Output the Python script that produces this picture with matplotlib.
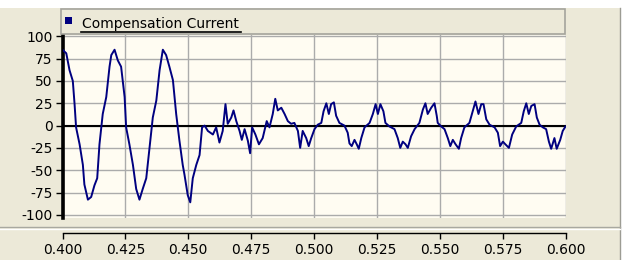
import matplotlib
matplotlib.use("Agg")
import matplotlib.pyplot as plt
from matplotlib.patches import Rectangle
from matplotlib.lines import Line2D

plt.rcParams['font.family'] = 'DejaVu Sans'
plt.rcParams['axes.unicode_minus'] = False

# values
time = [
    0.4000, 0.4015, 0.4028, 0.4041, 0.4048, 0.4054, 0.4068, 0.4081, 0.4087, 0.4101,
    0.4114, 0.4127, 0.4138, 0.4147, 0.4160, 0.4174, 0.4187, 0.4194, 0.4207, 0.4220,
    0.4233, 0.4247, 0.4253, 0.4266, 0.4280, 0.4293, 0.4306, 0.4319, 0.4333, 0.4346,
    0.4359, 0.4373, 0.4386, 0.4399, 0.4412, 0.4425, 0.4439, 0.4452, 0.4465, 0.4478,
    0.4485, 0.4498, 0.4508, 0.4518, 0.4532, 0.4545, 0.4555, 0.4565, 0.4578, 0.4598,
    0.4611, 0.4624, 0.4637, 0.4648, 0.4657, 0.4671, 0.4680, 0.4691, 0.4704, 0.4713,
    0.4724, 0.4737, 0.4746, 0.4754, 0.4767, 0.4781, 0.4796, 0.4812, 0.4823, 0.4836,
    0.4846, 0.4856, 0.4870, 0.4883, 0.4896, 0.4909, 0.4922, 0.4936, 0.4945, 0.4955,
    0.4969, 0.4979, 0.4989, 0.5002, 0.5015, 0.5029, 0.5038, 0.5049, 0.5059, 0.5068,
    0.5079, 0.5088, 0.5101, 0.5121, 0.5134, 0.5141, 0.5150, 0.5161, 0.5170, 0.5178,
    0.5188, 0.5201, 0.5221, 0.5234, 0.5245, 0.5254, 0.5264, 0.5276, 0.5284, 0.5300,
    0.5320, 0.5333, 0.5343, 0.5353, 0.5364, 0.5373, 0.5386, 0.5400, 0.5419, 0.5433,
    0.5443, 0.5452, 0.5466, 0.5479, 0.5488, 0.5492, 0.5506, 0.5519, 0.5532, 0.5542,
    0.5552, 0.5563, 0.5576, 0.5585, 0.5598, 0.5618, 0.5631, 0.5642, 0.5654, 0.5665,
    0.5674, 0.5685, 0.5698, 0.5718, 0.5731, 0.5740, 0.5751, 0.5761, 0.5775, 0.5788,
    0.5804, 0.5824, 0.5834, 0.5844, 0.5854, 0.5864, 0.5877, 0.5886, 0.5897, 0.5910,
    0.5923, 0.5934, 0.5943, 0.5956, 0.5965, 0.5979, 0.5989, 0.6000,
]
current = [
    85, 81, 62, 50, 24, -2, -21, -44, -66, -83,
    -80, -67, -59, -21, 13, 32, 66, 79, 85, 73,
    66, 32, -2, -21, -44, -71, -83, -71, -59, -25,
    9, 28, 62, 85, 79, 66, 51, 13, -17, -44,
    -55, -78, -86, -59, -44, -33, -2, 0, -6, -10,
    -2, -19, -6, 24, 2, 9, 17, 5, -6, -16,
    -4, -17, -31, -2, -10, -21, -14, 5, -2, 13,
    30, 17, 20, 13, 5, 2, 3, -6, -25, -6,
    -14, -23, -14, -4, 1, 3, 16, 25, 13, 24,
    26, 11, 3, 0, -8, -20, -23, -16, -21, -26,
    -14, -2, 3, 13, 24, 13, 24, 16, 3, -1,
    -4, -14, -25, -18, -21, -25, -12, -4, 3, 18,
    25, 13, 20, 25, 11, 3, -1, -4, -14, -23,
    -16, -21, -26, -14, -2, 3, 16, 27, 13, 24,
    24, 7, 1, -2, -8, -23, -18, -21, -25, -10,
    -1, 3, 16, 25, 13, 22, 24, 9, 1, -2,
    -4, -18, -26, -14, -26, -16, -6, -1,
]
y_ticks = [-100, -75, -50, -25, 0, 25, 50, 75, 100]
x_ticks = [0.400, 0.425, 0.450, 0.475, 0.500, 0.525, 0.550, 0.575, 0.600]
series_name = 'Compensation Current'

W, H = 623, 260


def fx(x):
    return x / W


def fy(y):
    return 1 - y / H


fig = plt.figure(figsize=(W / 100, H / 100), dpi=100, facecolor='#ECE9D8')

# window chrome: white strip on top and right, separators
fig.patches.append(Rectangle((0, fy(8)), 1, 8 / H, transform=fig.transFigure,
                             facecolor='white', edgecolor='none'))
fig.patches.append(Rectangle((fx(620), 0), 3 / W, 1, transform=fig.transFigure,
                             facecolor='white', edgecolor='none'))
fig.lines.append(Line2D([fx(619.5), fx(619.5)], [0, fy(8)], transform=fig.transFigure,
                        color='#9C9C94', lw=1))
fig.lines.append(Line2D([0, fx(619.5)], [fy(227), fy(227)], transform=fig.transFigure,
                        color='#A8A8A0', lw=1))
fig.lines.append(Line2D([0, fx(619.5)], [fy(229), fy(229)], transform=fig.transFigure,
                        color='white', lw=1))

# legend box
fig.patches.append(Rectangle((fx(61), fy(33.5)), (565 - 61) / W, 25 / H,
                             transform=fig.transFigure, facecolor='#ECE9D8',
                             edgecolor='#A4A49C', lw=1.2))
fig.patches.append(Rectangle((fx(65), fy(24)), 7 / W, 7 / H, transform=fig.transFigure,
                             facecolor='#000080', edgecolor='none'))
fig.text(fx(82), fy(28), series_name, fontsize=10, color='black', va='baseline', ha='left')
fig.lines.append(Line2D([fx(81), fx(241)], [fy(31.5), fy(31.5)], transform=fig.transFigure,
                        color='black', lw=1.2))

# main plot area
ax = fig.add_axes([fx(62.5), fy(217.5), (565.5 - 62.5) / W, (217.5 - 35) / H])
ax.set_facecolor('#FFFCF2')
ax.plot(time, current, color='#000080', lw=1.4, zorder=3)
ax.axhline(0, color='black', lw=1.5, zorder=2)
ax.set_xlim(0.4, 0.6)
ax.set_ylim(-103, 101.5)
ax.set_xticks(x_ticks)
ax.set_yticks(y_ticks)
ax.grid(True, color='#ABABAB', lw=1, zorder=1)
ax.tick_params(axis='x', length=0, labelbottom=False)
ax.tick_params(axis='y', direction='out', length=5, width=1, pad=2, labelsize=10, colors='black')
for s in ['top', 'right', 'bottom']:
    ax.spines[s].set_visible(False)
ax.spines['left'].set_color('black')
ax.spines['left'].set_linewidth(2.6)

# separate x axis strip below
ax2 = fig.add_axes([fx(62.5), fy(233), (565.5 - 62.5) / W, 0.001])
ax2.set_facecolor('none')
ax2.set_xlim(0.4, 0.6)
ax2.set_xticks(x_ticks)
ax2.set_xticklabels(['%.3f' % v for v in x_ticks])
ax2.set_yticks([])
for s in ['top', 'right', 'left']:
    ax2.spines[s].set_visible(False)
ax2.spines['bottom'].set_color('black')
ax2.spines['bottom'].set_linewidth(1)
ax2.tick_params(axis='x', direction='out', length=4, width=1, pad=3, labelsize=10)

fig.savefig('out.png', dpi=100, facecolor=fig.get_facecolor())
